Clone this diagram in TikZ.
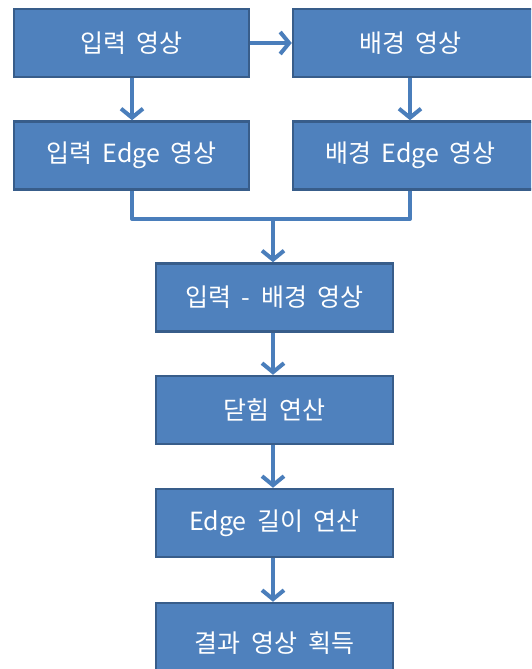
\documentclass[tikz,border=0pt]{standalone}
\usepackage{fontspec}
\setmainfont[WordSpace=1.9]{Noto Sans CJK KR}
\usetikzlibrary{arrows.meta}
\definecolor{boxfill}{HTML}{4F81BD}
\definecolor{boxline}{HTML}{385D8A}
\definecolor{arrowc}{HTML}{4A7EBB}
\begin{document}
\begin{tikzpicture}[x=1pt,y=-1pt,
  stepbox/.style={draw=boxline,fill=boxfill,line width=2.5pt,minimum height=68pt,
    inner sep=0pt,text=white,font=\fontsize{25}{28}\selectfont},
  conn/.style={draw=arrowc,line width=4pt},
  arr/.style={conn,-{Straight Barb[length=9pt,width=22pt,line width=4pt]}}]
\useasboundingbox (0,0) rectangle (531,669);
\clip (0,0) rectangle (531,669);
\node[stepbox,minimum width=235pt] (in) at (131.5,43) {입력 영상};
\node[stepbox,minimum width=248pt] (bg) at (417,43) {\hspace*{-13pt}배경 영상};
\node[stepbox,minimum width=235pt] (inE) at (131.5,155.5) {입력 Edge 영상};
\node[stepbox,minimum width=248pt] (bgE) at (417,155.5) {\hspace*{-13pt}배경 Edge 영상};
\node[stepbox,minimum width=237pt] (diff) at (274.5,297.5) {입력 - 배경 영상};
\node[stepbox,minimum width=237pt] (close) at (274.5,410) {닫힘 연산};
\node[stepbox,minimum width=237pt] (len) at (274.5,523) {Edge 길이 연산};
\node[stepbox,minimum width=237pt,minimum height=90pt] (res) at (274.5,648) {\raisebox{12pt}{결과 영상 획득}};
\coordinate (j) at (273,219);
\draw[arr] (in.east) -- (bg.west);
\draw[arr] (in.south -| 132,0) -- (inE.north -| 132,0);
\draw[arr] (bg.south -| 410,0) -- (bgE.north -| 410,0);
\draw[conn,line join=round] (inE.south -| 132,0) |- (j) -| (bgE.south -| 410,0);
\draw[arr] (j) -- (diff.north -| j);
\draw[arr] (diff.south -| j) -- (close.north -| j);
\draw[arr] (close.south -| j) -- (len.north -| j);
\draw[arr] (len.south -| j) -- (res.north -| j);
\end{tikzpicture}
\end{document}
